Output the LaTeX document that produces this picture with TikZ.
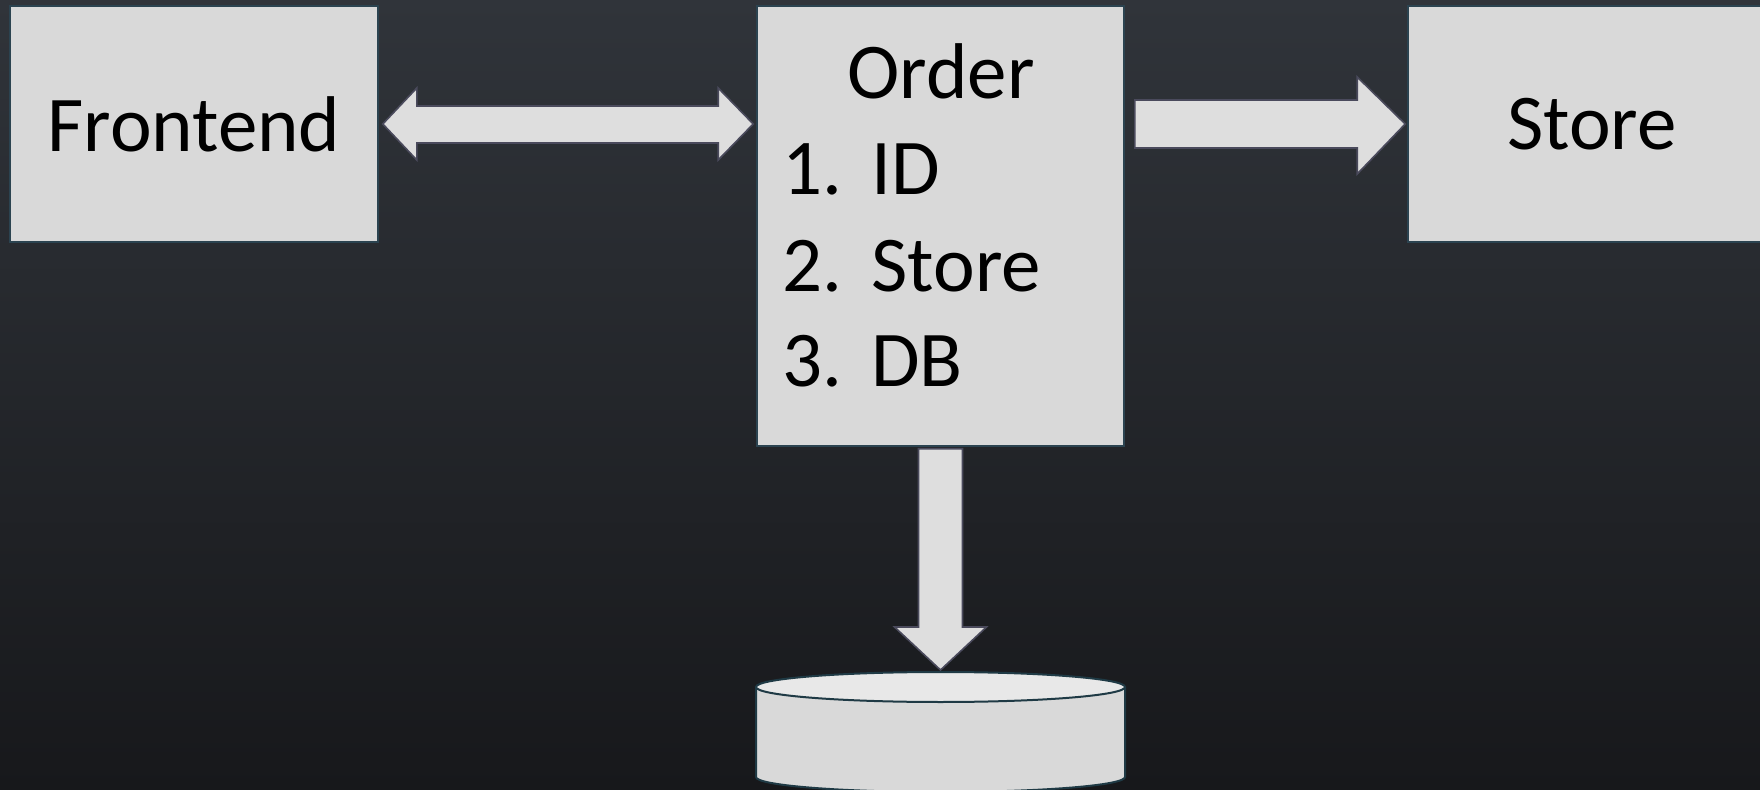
\documentclass[tikz,border=0pt]{standalone}
\usepackage{fontspec}
\setmainfont{Carlito}
\usetikzlibrary{calc}
\definecolor{boxfill}{HTML}{D9D9D9}
\definecolor{boxline}{HTML}{2B4350}
\definecolor{arrowfill}{HTML}{DEDEDE}
\definecolor{arrowline}{HTML}{4A4A5C}
\definecolor{bgtop}{HTML}{30343A}
\definecolor{bgbot}{HTML}{17181B}
\definecolor{captop}{HTML}{E8E8E8}
\definecolor{capline}{HTML}{1F3A45}
\begin{document}
\begin{tikzpicture}[x=0.5pt,y=-0.5pt,
  box/.style={draw=boxline, line width=0.8pt, fill=boxfill, inner sep=0pt},
  blockarrow/.style={draw=arrowline, line width=0.8pt, fill=arrowfill, line join=miter},
  label/.style={font=\fontsize{39.5}{46}\selectfont, text=black, inner sep=0pt}]

% page and background
\useasboundingbox (0,0) rectangle (1760,790);
\shade[top color=bgtop, bottom color=bgbot] (0,0) rectangle (1760,790);

% boxes
\node[box, label, minimum width=184pt, minimum height=118pt] (front) at (194,124) {Frontend};
\node[box, minimum width=183.5pt, minimum height=220pt] (order) at (940.5,226) {};
\node[box, label, minimum width=184pt, minimum height=118pt] (store) at (1592,124) {Store};

% contents of the order box
\node[label, anchor=base] (otitle) at (941,99) {Order};
\node[label, anchor=base west] (n1) at (782,195) {1.};
\node[label, anchor=base west] (i1) at (871,195) {ID};
\node[label, anchor=base west] (n2) at (782,292) {2.};
\node[label, anchor=base west] (i2) at (871,292) {Store};
\node[label, anchor=base west] (n3) at (782,387) {3.};
\node[label, anchor=base west] (i3) at (871,387) {DB};

% database cylinder
\coordinate (db) at (940.5,672);
\fill[boxfill] (756,687) rectangle (1125,777);
\fill[boxfill] (940.5,777) ellipse [x radius=184.5, y radius=15];
\draw[capline, line width=1pt] (756,687) -- (756,777)
  arc[start angle=180, end angle=0, x radius=184.5, y radius=15] -- (1125,687);
\draw[capline, line width=1pt, fill=captop] (940.5,687) ellipse [x radius=184.5, y radius=15];

% Frontend <-> Order
\coordinate (fa) at ($(front.east)+(4,0)$);
\coordinate (oa) at ($(front.east -| order.west)+(-3,0)$);
\draw[blockarrow] (fa) -- ($(fa)+(34,-36)$) -- ($(fa)+(34,-18)$)
  -- ($(oa)+(-35,-18)$) -- ($(oa)+(-35,-36)$) -- (oa)
  -- ($(oa)+(-35,36)$) -- ($(oa)+(-35,19)$)
  -- ($(fa)+(34,19)$) -- ($(fa)+(34,36)$) -- cycle;

% Order -> Store
\coordinate (ob) at ($(order.east |- store.west)+(10,0)$);
\coordinate (sb) at ($(store.west)+(-2,0)$);
\draw[blockarrow] ($(ob)+(0,-24)$) -- ($(sb)+(-48,-24)$) -- ($(sb)+(-48,-47)$)
  -- (sb) -- ($(sb)+(-48,50)$) -- ($(sb)+(-48,24)$) -- ($(ob)+(0,24)$) -- cycle;

% Order -> database
\coordinate (oc) at ($(order.south)+(0,2)$);
\coordinate (dc) at ($(db)+(0,-2)$);
\draw[blockarrow] ($(oc)+(-22,0)$) -- ($(dc)+(-22,-43)$) -- ($(dc)+(-46,-43)$)
  -- (dc) -- ($(dc)+(46,-43)$) -- ($(dc)+(22,-43)$) -- ($(oc)+(22,0)$) -- cycle;
\end{tikzpicture}
\end{document}
